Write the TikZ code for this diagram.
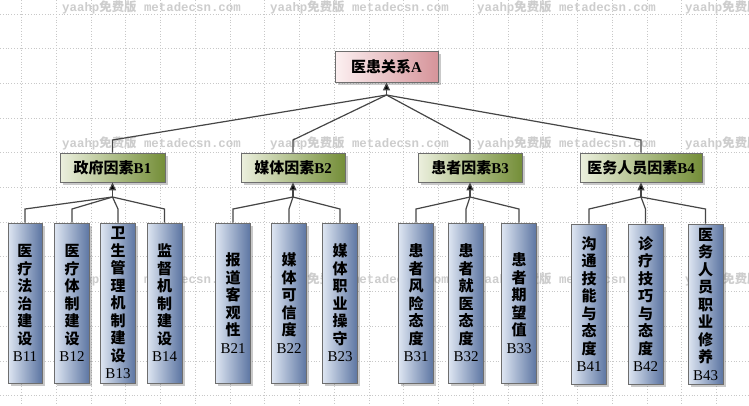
\documentclass[tikz,border=0pt]{standalone}
\usepackage{fontspec}
\setmainfont{Liberation Serif}
\newfontfamily\cjk{Noto Sans CJK SC}
\newfontfamily\wmmono{Liberation Mono}
\usetikzlibrary{shadows,arrows.meta}
\definecolor{gridc}{RGB}{200,200,200}
\definecolor{wmc}{RGB}{205,205,205}
\definecolor{linec}{RGB}{70,70,70}
\definecolor{borderc}{RGB}{110,110,110}
\definecolor{topL}{RGB}{252,240,241}
\definecolor{topR}{RGB}{214,148,154}
\definecolor{midL}{RGB}{236,240,222}
\definecolor{midR}{RGB}{116,142,56}
\definecolor{leafL}{RGB}{222,230,242}
\definecolor{leafR}{RGB}{92,117,162}
\begin{document}
\begin{tikzpicture}[x=1pt,y=-1pt,
  gridline/.style={gridc,dotted,line width=0.8pt},
  wm/.style={anchor=west,inner sep=0pt,text=wmc,font=\fontsize{12.4}{13}\selectfont\wmmono\bfseries},
  conn/.style={draw=linec,line width=1.2pt},
  arr/.style={draw=linec,line width=1.2pt,-{Triangle[length=8pt,width=7pt,fill=black]}},
  boxbase/.style={draw=borderc,line width=0.8pt,inner sep=0pt,
    drop shadow={shadow xshift=2.5pt,shadow yshift=-2.5pt,opacity=0.35,fill=black!60}},
  topbox/.style={boxbase,left color=topL,right color=topR,minimum width=103pt,minimum height=31pt,
    font=\fontsize{15}{18}\selectfont\bfseries},
  midbox/.style={boxbase,left color=midL,right color=midR,minimum height=29pt,
    font=\fontsize{15}{18}\selectfont\bfseries},
  leafbox/.style={boxbase,left color=leafL,right color=leafR,minimum width=35pt,minimum height=160pt,
    align=center,font=\fontsize{15}{17.5}\selectfont\cjk\bfseries}
]
\fill[white] (0,0) rectangle (749,405);
\useasboundingbox (0,0) rectangle (749,405);
% grid
\foreach \i in {0,...,21} \draw[gridline] (21.5+34.75*\i,0) -- (21.5+34.75*\i,405);
\foreach \j in {0,...,11} \draw[gridline] (0,13.9+34.7*\j) -- (749,13.9+34.7*\j);
% watermark
\foreach \yy in {7,143,279} \foreach \xx in {62,270,477,685}
  \node[wm] (wm-\xx-\yy) at (\xx,\yy) {yaahp{\cjk 免费版} metadecsn.com};
% nodes
\node[topbox] (A) at (386.5,66.5) {{\cjk 医患关系}A};
\node[midbox,minimum width=105pt] (B1) at (112.5,167.5) {{\cjk 政府因素}B1};
\node[midbox,minimum width=104pt] (B2) at (293,167.5) {{\cjk 媒体因素}B2};
\node[midbox,minimum width=104pt] (B3) at (470,167.5) {{\cjk 患者因素}B3};
\node[midbox,minimum width=122pt] (B4) at (641,167.5) {{\cjk 医务人员因素}B4};
% leaves
\node[leafbox,minimum width=34pt] (B11) at (25,303) {医\\疗\\法\\治\\建\\设\\\rmfamily\mdseries B11};
\node[leafbox] (B12) at (72,303) {医\\疗\\体\\制\\建\\设\\\rmfamily\mdseries B12};
\node[leafbox] (B13) at (118,303) {卫\\生\\管\\理\\机\\制\\建\\设\\\rmfamily\mdseries B13};
\node[leafbox] (B14) at (164.5,303) {监\\督\\机\\制\\建\\设\\\rmfamily\mdseries B14};
\node[leafbox] (B21) at (233,303) {报\\道\\客\\观\\性\\\rmfamily\mdseries B21};
\node[leafbox] (B22) at (289,303) {媒\\体\\可\\信\\度\\\rmfamily\mdseries B22};
\node[leafbox] (B23) at (340,303) {媒\\体\\职\\业\\操\\守\\\rmfamily\mdseries B23};
\node[leafbox] (B31) at (416,303) {患\\者\\风\\险\\态\\度\\\rmfamily\mdseries B31};
\node[leafbox] (B32) at (466,303) {患\\者\\就\\医\\态\\度\\\rmfamily\mdseries B32};
\node[leafbox] (B33) at (519,303) {患\\者\\期\\望\\值\\\rmfamily\mdseries B33};
\node[leafbox] (B41) at (589,304) {沟\\通\\技\\能\\与\\态\\度\\\rmfamily\mdseries B41};
\node[leafbox] (B42) at (645.5,304) {诊\\疗\\技\\巧\\与\\态\\度\\\rmfamily\mdseries B42};
\node[leafbox] (B43) at (705.5,304) {医\\务\\人\\员\\职\\业\\修\\养\\\rmfamily\mdseries B43};
% hubs and bends
\coordinate (hA) at (386.5,95);
\foreach \n/\x in {1/112.5,2/293,3/470,4/641} {
  \coordinate (bA\n) at (\x,140);
  \coordinate (hB\n) at (\x,197);
}
\foreach \n/\x in {11/25,12/72,13/118,14/164.5,21/233,22/289,23/340,31/416,32/466,33/519,41/589,42/645.5,43/705.5}
  \coordinate (c\n) at (\x,209);
% connectors
\draw[arr] (hA) -- (A.south);
\foreach \n in {1,2,3,4} {
  \draw[conn] (hA) -- (bA\n) -- (B\n.north);
  \draw[arr] (hB\n) -- (B\n.south);
}
\foreach \g/\n in {1/11,1/12,1/13,1/14,2/21,2/22,2/23,3/31,3/32,3/33,4/41,4/42,4/43}
  \draw[conn] (hB\g) -- (c\n) -- (B\n.north);
\end{tikzpicture}
\end{document}
